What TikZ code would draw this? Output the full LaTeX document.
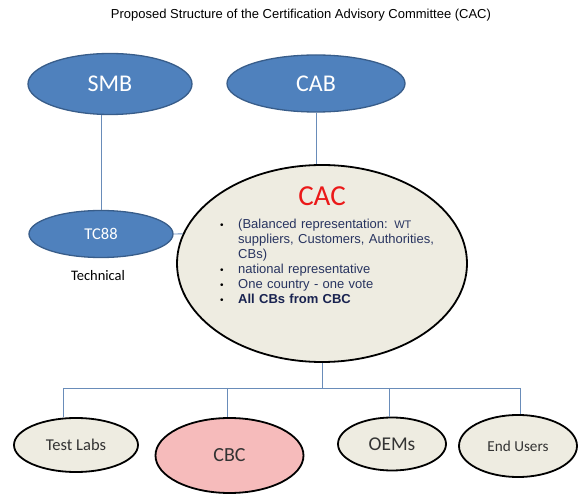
\documentclass[tikz,border=0pt]{standalone}
\usepackage{fontspec}
\setmainfont{Liberation Sans}
\newfontfamily\carlito{Carlito}
\usetikzlibrary{shapes.geometric}
\definecolor{bluefill}{RGB}{79,129,189}
\definecolor{blueedge}{RGB}{56,93,138}
\definecolor{beige}{RGB}{238,236,225}
\definecolor{pinkfill}{RGB}{246,187,187}
\definecolor{connline}{RGB}{105,140,185}
\definecolor{navytext}{RGB}{40,52,96}
\definecolor{navybold}{RGB}{25,35,80}
\definecolor{cacred}{RGB}{235,25,25}
\begin{document}
\begin{tikzpicture}[x=1pt,y=-1pt,
  blueell/.style={ellipse, draw=blueedge, line width=1.3pt, fill=bluefill, inner sep=0pt, text=white},
  beigeell/.style={ellipse, draw=black, line width=1.8pt, fill=beige, inner sep=0pt, text=black!80},
  conn/.style={draw=connline, line width=0.9pt}]
\useasboundingbox[fill=white] (0,0) rectangle (579,494);

\node[font=\fontsize{13}{15}\selectfont] (title) at (301,15) {Proposed Structure of the Certification Advisory Committee (CAC)};

\node[blueell, minimum width=164pt, minimum height=61pt, font=\carlito\fontsize{24}{28}\selectfont] (SMB) at (110,84) {SMB};
\node[blueell, minimum width=178pt, minimum height=57pt, font=\carlito\fontsize{24}{28}\selectfont] (CAB) at (316,83.5) {CAB};
\node[blueell, minimum width=144pt, minimum height=47pt, font=\carlito\fontsize{16.5}{19}\selectfont] (TC88) at (101,234) {TC88};
\node[font=\carlito\fontsize{14.5}{17}\selectfont] (tech) at (98,276) {Technical};

\node[beigeell, minimum width=290pt, minimum height=197pt] (CAC) at (322,263.5) {};
\node[text=cacred, font=\carlito\fontsize{29}{32}\selectfont] (cactitle) at (322,196) {CAC};
\node[anchor=north west, inner sep=0pt, text width=230pt, align=left, text=navytext, font=\fontsize{13}{15}\selectfont] (list) at (220,219) {%
\makebox[18pt][l]{\textcolor{black}{\fontsize{10}{15}\selectfont\textbullet}}(Balanced representation: {\fontsize{11}{15}\selectfont WT}\\
\hspace*{18pt}suppliers, Customers, Authorities,\\
\hspace*{18pt}CBs)\\
\makebox[18pt][l]{\textcolor{black}{\fontsize{10}{15}\selectfont\textbullet}}national representative\\
\makebox[18pt][l]{\textcolor{black}{\fontsize{10}{15}\selectfont\textbullet}}One country - one vote\\
\makebox[18pt][l]{\textcolor{black}{\fontsize{10}{15}\selectfont\textbullet}}\textcolor{navybold}{\bfseries All CBs from CBC}};

\node[beigeell, minimum width=124pt, minimum height=54pt, font=\carlito\fontsize{16.5}{19}\selectfont] (TL) at (76,445) {Test Labs};
\node[beigeell, fill=pinkfill, minimum width=148pt, minimum height=75pt, font=\carlito\fontsize{20}{23}\selectfont] (CBC) at (229.5,455.5) {CBC};
\node[beigeell, minimum width=108pt, minimum height=53pt, font=\carlito\fontsize{19.5}{22}\selectfont] (OEM) at (392,444) {OEMs};
\node[beigeell, minimum width=118pt, minimum height=62pt, font=\carlito\fontsize{15.2}{18}\selectfont] (EU) at (518,446) {End Users};

\draw[conn] (SMB.south -| TC88.north) -- (TC88.north);
\draw[conn] (CAB.south) -- (CAB.south |- CAC.north);
\draw[conn] (TC88.east) -- (CAC.168);
\coordinate (bus) at (322,388);
\coordinate (b1) at (63,388);
\coordinate (b2) at (227,388);
\coordinate (b3) at (389,388);
\coordinate (b4) at (520,388);
\draw[conn] (CAC.south) -- (bus);
\draw[conn] (b1) -- (b4);
\draw[conn] (b1) -- (b1 |- TL.north);
\draw[conn] (b2) -- (b2 |- CBC.north);
\draw[conn] (b3) -- (b3 |- OEM.north);
\draw[conn] (b4) -- (b4 |- EU.north);
\end{tikzpicture}
\end{document}
